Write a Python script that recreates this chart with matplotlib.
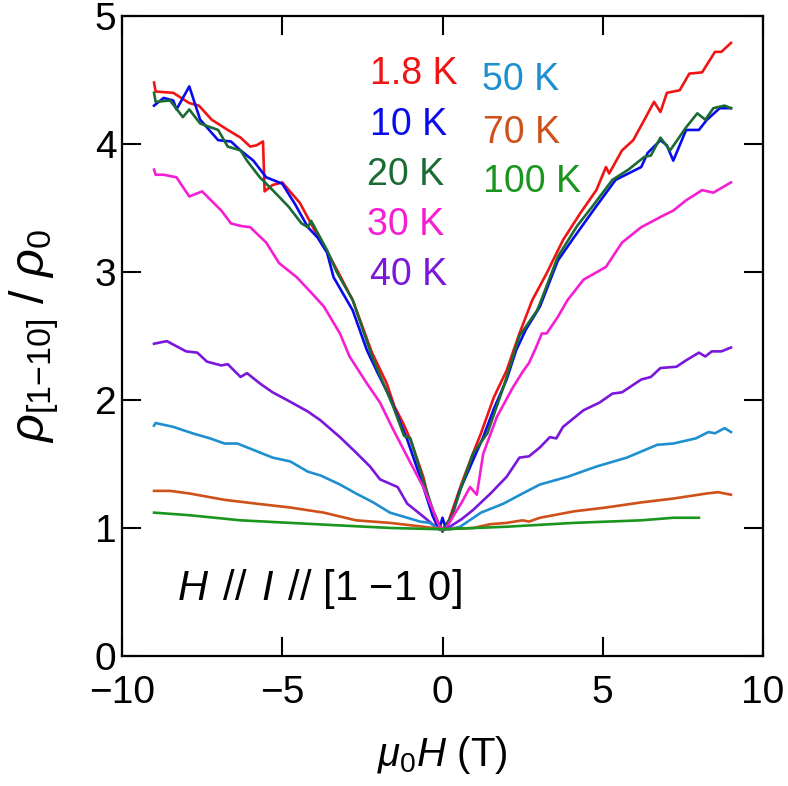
import matplotlib
matplotlib.use("Agg")
import matplotlib.pyplot as plt

plt.rcParams['font.family'] = ['Liberation Sans', 'DejaVu Sans']
plt.rcParams['mathtext.fontset'] = 'custom'
plt.rcParams['mathtext.rm'] = 'Liberation Sans'
plt.rcParams['mathtext.it'] = 'Liberation Sans:italic'

# ---- data (field in T, normalised resistivity) ----
x_1p8 = [-9.0, -8.95, -8.4, -7.9, -7.6, -7.2, -6.7, -6.3, -6.0, -5.8, -5.6, -5.55, -5.3, -5.0,
         -4.45, -4.0, -3.6, -3.3, -2.8, -2.2, -1.74, -1.5, -1.23, -1.0, -0.6, -0.4, -0.17, 0.0,
         0.2, 0.6, 0.9, 1.2, 1.6, 2.0, 2.4, 2.8, 3.25, 3.76, 4.3, 4.8, 5.1, 5.2, 5.6, 5.95, 6.3,
         6.6, 6.8, 7.0, 7.4, 7.7, 8.1, 8.5, 8.7, 9.0]
y_1p8 = [4.48, 4.41, 4.40, 4.32, 4.30, 4.19, 4.11, 4.05, 3.98, 3.99, 4.02, 3.63, 3.68, 3.70,
         3.54, 3.33, 3.16, 3.02, 2.78, 2.37, 2.13, 1.95, 1.82, 1.69, 1.40, 1.19, 1.01, 0.99,
         1.06, 1.35, 1.55, 1.74, 2.02, 2.23, 2.52, 2.78, 2.99, 3.25, 3.46, 3.64, 3.82, 3.77, 3.95,
         4.03, 4.19, 4.33, 4.25, 4.40, 4.42, 4.55, 4.56, 4.72, 4.72, 4.79]

x_10 = [-9.0, -8.7, -8.4, -8.3, -7.9, -7.56, -7.0, -6.6, -6.3, -5.9, -5.5, -5.0, -4.6, -4.2,
        -3.9, -3.6, -3.4, -2.8, -2.36, -2.0, -1.64, -1.1, -0.7, -0.3, -0.1, 0.0, 0.1, 0.3, 0.55,
        0.9, 1.27, 1.6, 2.0, 2.3, 2.6, 3.04, 3.6, 4.1, 4.7, 5.4, 5.8, 6.2, 6.4, 6.8, 7.0, 7.2,
        7.6, 8.0, 8.25, 8.65, 9.0]
y_10 = [4.30, 4.36, 4.34, 4.27, 4.45, 4.19, 4.03, 4.02, 3.95, 3.87, 3.74, 3.69, 3.53, 3.35,
        3.27, 3.15, 2.96, 2.70, 2.39, 2.20, 2.02, 1.69, 1.40, 1.09, 0.99, 1.08, 1.00, 1.10, 1.30,
        1.50, 1.71, 1.93, 2.16, 2.39, 2.55, 2.73, 3.09, 3.27, 3.48, 3.72, 3.77, 3.82, 3.93, 4.03,
        3.99, 3.87, 4.11, 4.11, 4.19, 4.28, 4.28]

x_20 = [-9.0, -8.95, -8.5, -8.1, -7.9, -7.56, -7.0, -6.7, -6.3, -6.1, -5.7, -5.3, -4.8, -4.4,
        -4.2, -4.1, -3.6, -3.3, -2.8, -2.2, -1.54, -1.2, -1.0, -0.6, -0.3, 0.0, 0.3, 0.6, 0.95,
        1.4, 1.9, 2.4, 2.95, 3.05, 3.6, 4.2, 4.7, 5.3, 5.8, 6.3, 6.5, 6.8, 7.1, 7.6, 7.95, 8.2,
        8.45, 8.8, 9.0]
y_20 = [4.40, 4.33, 4.34, 4.21, 4.27, 4.16, 4.11, 3.98, 3.95, 3.87, 3.74, 3.64, 3.51, 3.38,
        3.35, 3.40, 3.17, 3.00, 2.78, 2.34, 1.95, 1.72, 1.70, 1.37, 1.14, 0.97, 1.10, 1.33, 1.58,
        1.74, 2.10, 2.50, 2.70, 2.76, 3.12, 3.36, 3.52, 3.72, 3.80, 3.90, 3.91, 4.05, 3.95, 4.13,
        4.24, 4.19, 4.28, 4.30, 4.28]

x_30 = [-9.0, -8.95, -8.7, -8.3, -7.9, -7.5, -6.9, -6.6, -6.3, -6.0, -5.5, -5.1, -4.55, -4.1,
        -3.7, -3.2, -2.9, -2.36, -1.95, -1.54, -1.0, -0.6, -0.3, -0.08, 0.1, 0.33, 0.6, 0.86,
        1.07, 1.27, 1.7, 2.2, 2.5, 2.7, 2.9, 3.1, 3.25, 3.6, 3.9, 4.4, 5.1, 5.6, 6.2, 6.8, 7.2,
        7.6, 8.1, 8.45, 9.0]
y_30 = [3.80, 3.76, 3.76, 3.74, 3.59, 3.63, 3.48, 3.38, 3.36, 3.35, 3.23, 3.07, 2.96, 2.84,
        2.73, 2.52, 2.34, 2.13, 1.98, 1.77, 1.51, 1.32, 1.14, 1.00, 0.99, 1.09, 1.20, 1.32,
        1.26, 1.58, 1.87, 2.10, 2.22, 2.29, 2.40, 2.52, 2.52, 2.65, 2.78, 2.94, 3.04, 3.23, 3.35,
        3.43, 3.48, 3.56, 3.64, 3.62, 3.70]

x_40 = [-9.0, -8.6, -8.0, -7.65, -7.35, -6.9, -6.7, -6.3, -6.1, -5.7, -5.3, -4.85, -4.2, -3.8,
        -3.2, -2.7, -2.26, -1.95, -1.4, -1.1, -0.6, -0.17, 0.0, 0.23, 0.6, 0.95, 1.5, 2.0, 2.4,
        2.7, 3.04, 3.35, 3.55, 3.76, 4.4, 4.9, 5.3, 5.6, 6.2, 6.5, 6.8, 7.3, 7.6, 8.0, 8.2, 8.4,
        8.7, 9.0]
y_40 = [2.44, 2.46, 2.38, 2.37, 2.30, 2.27, 2.28, 2.18, 2.21, 2.13, 2.06, 2.00, 1.91, 1.84,
        1.71, 1.59, 1.48, 1.38, 1.32, 1.19, 1.09, 1.00, 0.98, 1.01, 1.07, 1.14, 1.27, 1.40, 1.55,
        1.56, 1.63, 1.71, 1.70, 1.79, 1.92, 1.98, 2.05, 2.06, 2.16, 2.18, 2.25, 2.26, 2.31, 2.37,
        2.34, 2.38, 2.38, 2.41]

x_50 = [-9.0, -8.95, -8.4, -7.8, -7.25, -6.8, -6.4, -5.9, -5.3, -4.75, -4.2, -3.8, -3.2, -2.7,
        -2.16, -1.64, -1.1, -0.7, -0.4, -0.1, 0.2, 0.55, 1.2, 1.9, 2.5, 3.04, 3.9, 4.8, 5.75,
        6.7, 7.2, 7.9, 8.3, 8.5, 8.8, 9.0]
y_50 = [1.80, 1.82, 1.79, 1.74, 1.70, 1.66, 1.66, 1.61, 1.55, 1.52, 1.44, 1.41, 1.34, 1.27,
        1.20, 1.12, 1.08, 1.05, 1.04, 0.99, 0.99, 1.01, 1.12, 1.19, 1.27, 1.34, 1.40, 1.48, 1.55,
        1.65, 1.66, 1.70, 1.75, 1.74, 1.78, 1.75]

x_70 = [-9.0, -8.5, -7.9, -6.8, -5.8, -4.75, -3.7, -2.7, -1.64, -0.6, 0.0, 0.95, 1.5, 2.0,
        2.5, 2.7, 3.04, 4.1, 5.1, 6.2, 7.2, 8.25, 8.6, 9.0]
y_70 = [1.29, 1.29, 1.27, 1.22, 1.19, 1.16, 1.12, 1.06, 1.04, 1.01, 0.99, 1.00, 1.03, 1.04,
        1.06, 1.05, 1.08, 1.13, 1.16, 1.20, 1.23, 1.27, 1.28, 1.26]

x_100 = [-9.0, -7.9, -6.3, -4.75, -3.2, -1.6, 0.0, 2.0, 4.1, 6.2, 7.2, 8.0]
y_100 = [1.12, 1.10, 1.06, 1.04, 1.02, 1.00, 0.99, 1.01, 1.04, 1.06, 1.08, 1.08]

labels = ['1.8 K', '10 K', '20 K', '30 K', '40 K', '50 K', '70 K', '100 K']
colors = ['#f01414', '#0a0af0', '#1b6b35', '#f51ed2', '#7b16dc', '#1e8fd0', '#cf5019', '#1a951e']
xs = [x_1p8, x_10, x_20, x_30, x_40, x_50, x_70, x_100]
ys = [y_1p8, y_10, y_20, y_30, y_40, y_50, y_70, y_100]

# label anchor (left, centre) in data coords
label_x = [-2.26, -2.26, -2.35, -2.35, -2.26, 1.23, 1.26, 1.26]
label_y = [4.55, 4.15, 3.76, 3.37, 2.98, 4.50, 4.09, 3.70]

fig = plt.figure(figsize=(7.88, 7.86), dpi=100)
ax = fig.add_axes([0.1548, 0.1654, 0.8135, 0.8142])

for x, y, c in zip(xs, ys, colors):
    ax.plot(x, y, color=c, lw=1.9)

for lab, c, lx, ly in zip(labels, colors, label_x, label_y):
    ax.text(lx, ly, lab, color=c, fontsize=27, ha='left', va='center')

ax.text(-8.28, 0.52, r'$\mathit{H\,\;//\,\;I\,\;//}$ [1 −1 0]',
        fontsize=30, ha='left', va='center')

ax.set_xlim(-10, 10)
ax.set_ylim(0, 5)
ax.set_xticks([-10, -5, 0, 5, 10])
ax.set_xticklabels(['−10', '−5', '0', '5', '10'])
ax.set_yticks([0, 1, 2, 3, 4, 5])
ax.tick_params(direction='in', length=14, width=1.5, top=True, right=True,
               labelsize=28)
ax.tick_params(axis='x', pad=14)
ax.tick_params(axis='y', pad=4)
for s in ax.spines.values():
    s.set_linewidth(1.6)

ax.set_xlabel(r'$\mathit{\mu}_{0}\mathit{H}$ (T)', fontsize=29, labelpad=16)
ax.set_ylabel(r'$\mathit{\rho}_{[1\mathrm{-}10]}$ / $\mathit{\rho}_{0}$', fontsize=35, labelpad=24)

fig.savefig('out.png', dpi=100)
